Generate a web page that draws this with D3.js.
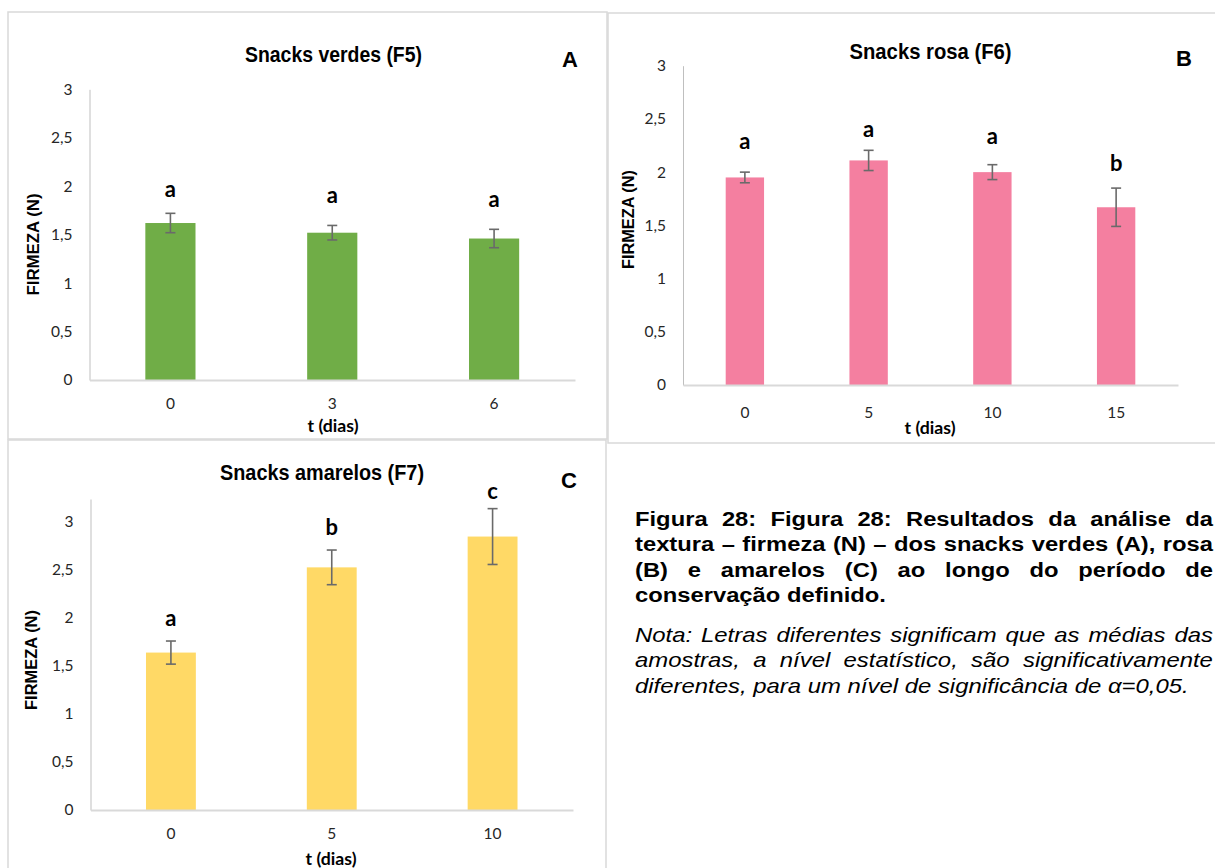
<!DOCTYPE html>
<html><head><meta charset="utf-8">
<script src="https://cdn.jsdelivr.net/npm/d3@7"></script>
<style>body{margin:0;background:#fff}svg{display:block}</style>
</head><body><svg id="c" width="1215" height="868"></svg>
<script>
// ---------- DATA ----------
const daysA = ["0", "3", "6"];
const firmezaA = [1.62, 1.52, 1.46];
const erroA = [0.10, 0.075, 0.095];
const letrasA = ["a", "a", "a"];
const letrasPosA = [1.89, 1.83, 1.79];

const daysB = ["0", "5", "10", "15"];
const firmezaB = [1.95, 2.11, 2.00, 1.67];
const erroB = [0.05, 0.095, 0.07, 0.18];
const letrasB = ["a", "a", "a", "b"];
const letrasPosB = [2.22, 2.33, 2.26, 2.01];

const daysC = ["0", "5", "10"];
const firmezaC = [1.635, 2.52, 2.84];
const erroC = [0.12, 0.18, 0.29];
const letrasC = ["a", "b", "c"];
const letrasPosC = [1.91, 2.86, 3.23];

const yTicks = [0, 0.5, 1, 1.5, 2, 2.5, 3];
const yTickLabels = ["0", "0,5", "1", "1,5", "2", "2,5", "3"];
const titles = ["Snacks verdes (F5)", "Snacks rosa (F6)", "Snacks amarelos (F7)"];
const panelLetters = ["A", "B", "C"];
const yLabel = "FIRMEZA (N)";
const xLabel = "t (dias)";

const captionBold = [
  "Figura 28: Figura 28: Resultados da análise da",
  "textura – firmeza (N) – dos snacks verdes (A), rosa",
  "(B) e amarelos (C) ao longo do período de",
  "conservação definido."
];
const captionNote = [
  "Nota: Letras diferentes significam que as médias das",
  "amostras, a nível estatístico, são significativamente",
  "diferentes, para um nível de significância de α=0,05."
];

// ---------- LAYOUT ----------
const svg = d3.select("#c");
svg.append("rect").attr("width", 1215).attr("height", 868).attr("fill", "#fff");

const panels = [
  { days: daysA, vals: firmezaA, errs: erroA, letters: letrasA, lpos: letrasPosA,
    color: "#70ad47", frame: [8, 12, 599, 427],
    left: 89.5, right: 575, bottom: 380, top: 89.3, axisMax: 3,
    title: { cx: 333.5, y: 62, w: 177 }, pl: { x: 570, y: 67 },
    yl: { x: 39, cy: 244.5, w: 102 }, xl: { cx: 333, y: 432, w: 51 }, xpad: 17.5 },
  { days: daysB, vals: firmezaB, errs: erroB, letters: letrasB, lpos: letrasPosB,
    color: "#f47fa0", frame: [608, 13, 620, 430],
    left: 683, right: 1178, bottom: 385, top: 65.7, axisMax: 3,
    title: { cx: 930.5, y: 59, w: 162 }, pl: { x: 1184, y: 66 },
    yl: { x: 634, cy: 219.5, w: 99 }, xl: { cx: 930, y: 434, w: 51 }, xpad: 21.5 },
  { days: daysC, vals: firmezaC, errs: erroC, letters: letrasC, lpos: letrasPosC,
    color: "#ffd966", frame: [8, 440, 598, 440],
    left: 90.5, right: 573, bottom: 810, top: 499, axisMax: 3.23,
    title: { cx: 322, y: 480, w: 204 }, pl: { x: 569, y: 488 },
    yl: { x: 37, cy: 660, w: 100 }, xl: { cx: 331, y: 865, w: 51 }, xpad: 17.5 }
];

const ARIAL = '"Liberation Sans", Arial, sans-serif';
const CAL = 'Lato, "Open Sans", sans-serif';

panels.forEach((p, i) => {
  const g = svg.append("g");
  const [fx, fy, fw, fh] = p.frame;
  g.append("rect").attr("x", fx).attr("y", fy).attr("width", fw).attr("height", fh)
    .attr("fill", "none").attr("stroke", "#d9d9d9").attr("stroke-width", 1.5);

  const x = d3.scaleBand().domain(p.days).range([p.left, p.right])
    .paddingInner(0.69).paddingOuter(0.345);
  const y = d3.scaleLinear().domain([0, p.axisMax]).range([p.bottom, p.top]);

  // y axis
  const ya = g.append("g").attr("transform", `translate(${p.left},0)`)
    .call(d3.axisLeft(y).tickValues(yTicks).tickSize(0).tickSizeOuter(0).tickPadding(17)
      .tickFormat((d, k) => yTickLabels[k]));
  ya.select(".domain").attr("stroke", "#bfbfbf").attr("stroke-width", 1);
  ya.selectAll("text").attr("font-family", CAL).attr("font-size", 15.5).attr("fill", "#262626");

  // bars
  g.selectAll(".bar").data(p.vals).join("rect")
    .attr("x", (d, k) => x(p.days[k])).attr("width", x.bandwidth())
    .attr("y", d => y(d)).attr("height", d => y(0) - y(d))
    .attr("fill", p.color);

  // x axis
  const xa = g.append("g").attr("transform", `translate(0,${p.bottom})`)
    .call(d3.axisBottom(x).tickSize(0).tickSizeOuter(0).tickPadding(p.xpad));
  xa.select(".domain").attr("stroke", "#d9d9d9").attr("stroke-width", 2);
  xa.selectAll("text").attr("font-family", CAL).attr("font-size", 15.5).attr("fill", "#262626");

  // error bars
  const eb = g.append("g").attr("stroke", "#6a6a6a").attr("stroke-width", 1.6).attr("fill", "none");
  p.vals.forEach((v, k) => {
    const cx = x(p.days[k]) + x.bandwidth() / 2;
    const y1 = y(v + p.errs[k]), y2 = y(v - p.errs[k]);
    eb.append("line").attr("x1", cx).attr("x2", cx).attr("y1", y1).attr("y2", y2);
    eb.append("line").attr("x1", cx - 5).attr("x2", cx + 5).attr("y1", y1).attr("y2", y1);
    eb.append("line").attr("x1", cx - 5).attr("x2", cx + 5).attr("y1", y2).attr("y2", y2);
  });

  // significance letters
  g.selectAll(".lt").data(p.letters).join("text")
    .attr("x", (d, k) => x(p.days[k]) + x.bandwidth() / 2)
    .attr("y", (d, k) => y(p.lpos[k]))
    .attr("text-anchor", "middle").attr("font-family", CAL).attr("font-weight", 700)
    .attr("font-size", 22).attr("fill", "#000").text(d => d);

  // title
  g.append("text").attr("x", p.title.cx - p.title.w / 2).attr("y", p.title.y)
    .attr("font-family", ARIAL).attr("font-weight", 700).attr("font-size", 21.5)
    .attr("textLength", p.title.w).attr("lengthAdjust", "spacingAndGlyphs")
    .attr("fill", "#000").text(titles[i]);

  // panel letter
  g.append("text").attr("x", p.pl.x).attr("y", p.pl.y).attr("text-anchor", "middle")
    .attr("font-family", ARIAL).attr("font-weight", 700).attr("font-size", 22)
    .attr("fill", "#000").text(panelLetters[i]);

  // y label
  g.append("text").attr("transform", `translate(${p.yl.x},${p.yl.cy + p.yl.w / 2}) rotate(-90)`)
    .attr("font-family", ARIAL).attr("font-weight", 700).attr("font-size", 17)
    .attr("textLength", p.yl.w).attr("lengthAdjust", "spacingAndGlyphs")
    .attr("fill", "#000").text(yLabel);

  // x label
  g.append("text").attr("x", p.xl.cx - p.xl.w / 2).attr("y", p.xl.y)
    .attr("font-family", CAL).attr("font-weight", 700).attr("font-size", 17)
    .attr("textLength", p.xl.w).attr("lengthAdjust", "spacingAndGlyphs")
    .attr("fill", "#000").text(xLabel);
});

// ---------- CAPTION ----------
const tmp = svg.append("text").attr("x", -1000).attr("y", -1000);
function measure(str, fam, size, weight, style) {
  tmp.attr("font-family", fam).attr("font-size", size).attr("font-weight", weight)
    .attr("font-style", style).text(str);
  return tmp.node().getComputedTextLength();
}
function paragraph(lines, opts) {
  const { x0, right, y0, lh, size, weight, style, lastW } = opts;
  const sx = lastW / measure(lines[lines.length - 1], ARIAL, size, weight, style);
  lines.forEach((line, li) => {
    const t = svg.append("text")
      .attr("transform", `translate(${x0},${y0 + li * lh}) scale(${sx},1)`)
      .attr("font-family", ARIAL).attr("font-size", size).attr("font-weight", weight)
      .attr("font-style", style).attr("fill", "#000");
    if (li === lines.length - 1) { t.text(line); return; }
    const words = line.split(" ");
    const ws = words.map(w => measure(w, ARIAL, size, weight, style));
    const total = d3.sum(ws);
    const gap = ((right - x0) / sx - total) / (words.length - 1);
    let cx = 0;
    words.forEach((w, k) => {
      t.append("tspan").attr("x", cx).text(w + (k < words.length - 1 ? " " : ""));
      cx += ws[k] + gap;
    });
  });
}
paragraph(captionBold, { x0: 635, right: 1213, y0: 526, lh: 25.3, size: 20.5, weight: 700, style: "normal", lastW: 251 });
paragraph(captionNote, { x0: 635, right: 1213, y0: 642, lh: 25.3, size: 20, weight: 400, style: "italic", lastW: 554 });
tmp.remove();
</script></body></html>
